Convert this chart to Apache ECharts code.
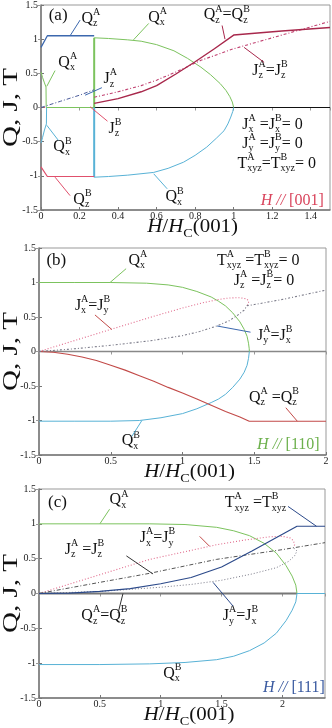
<!DOCTYPE html>
<html>
<head>
<meta charset="utf-8">
<script src="https://cdn.jsdelivr.net/npm/echarts@6.0.0/dist/echarts.min.js"></script>
<style>
html, body { margin: 0; padding: 0; background: #fff; }
#main { width: 332px; height: 728px; }
</style>
</head>
<body>
<div id="main"></div>
<script>
// ---------- panel (a)  H // [001] ----------
var aQxA = [[0, 0.52], [0.008, 0.44], [0.018, 0.36], [0.026, 0.3], [0.027, 0], [0.276, 0]];
var aQxAJump = [[0.276, 0], [0.276, 1.02]];
var aQxAHigh = [[0.276, 1.02], [0.35, 1.01], [0.45, 0.99], [0.52, 0.97], [0.6, 0.92], [0.69, 0.83], [0.76, 0.72],
  [0.83, 0.59], [0.88, 0.48], [0.93, 0.35], [0.96, 0.25], [0.98, 0.16], [0.993, 0.08], [1.0, 0]];
var aQxB = [[0, -0.52], [0.008, -0.44], [0.018, -0.33], [0.028, -0.24], [0.029, 0]];
var aQxBJump = [[0.276, 0], [0.276, -1.02]];
var aQxBHigh = [[0.276, -1.02], [0.35, -1.01], [0.45, -0.99], [0.585, -0.95], [0.66, -0.89], [0.74, -0.8], [0.8, -0.7],
  [0.86, -0.58], [0.91, -0.45], [0.95, -0.34], [0.97, -0.24], [0.985, -0.14], [0.995, -0.06], [1.0, 0]];
var aQzA = [[0, 0.88], [0.033, 1.05], [0.276, 1.05]];
var aQzB = [[0, -0.87], [0.033, -1.01], [0.276, -1.01]];
var aQz = [[0.276, 0.06], [0.4, 0.13], [0.52, 0.23], [0.6, 0.32], [0.7, 0.49], [0.8, 0.67], [0.9, 0.86], [1.0, 1.06],
  [1.25, 1.12], [1.5, 1.17]];
var aJzA = [[0, 0], [0.1, 0.09], [0.2, 0.18], [0.276, 0.26]];
var aJzB = [[0, 0], [0.276, 0]];
var aJz = [[0.276, 0.15], [0.4, 0.23], [0.52, 0.32], [0.6, 0.4], [0.7, 0.52], [0.83, 0.69], [1.0, 0.86], [1.25, 1.06],
  [1.5, 1.26]];
var aZero = [[0.276, 0], [1.5, 0]];

// ---------- panel (b)  H // [110] ----------
var bQxA = [[0, 1.0], [0.25, 1.0], [0.5, 1.0], [0.75, 0.99], [0.9, 0.965], [1.0, 0.93], [1.1, 0.87], [1.2, 0.79],
  [1.25, 0.73], [1.3, 0.66], [1.35, 0.56], [1.4, 0.43], [1.43, 0.32], [1.45, 0.22], [1.46, 0.12], [1.465, 0.04], [1.466, 0]];
var bQxB = [[0, -1.01], [0.25, -1.01], [0.5, -1.01], [0.7, -1.0], [0.85, -0.96], [1.0, -0.9], [1.1, -0.83], [1.2, -0.74],
  [1.25, -0.69], [1.3, -0.62], [1.35, -0.52], [1.4, -0.4], [1.43, -0.3], [1.45, -0.2], [1.46, -0.1], [1.466, 0]];
var bQz = [[0, 0], [0.1, -0.01], [0.2, -0.04], [0.3, -0.08], [0.4, -0.13], [0.5, -0.2], [0.6, -0.27], [0.7, -0.35],
  [0.8, -0.43], [0.9, -0.52], [1.0, -0.6], [1.1, -0.69], [1.2, -0.78], [1.3, -0.87], [1.4, -0.95], [1.465, -1.01], [2.0, -1.01]];
var bJxA = [[0, 0], [0.25, 0.16], [0.5, 0.32], [0.775, 0.495], [1.0, 0.63], [1.15, 0.71], [1.24, 0.75], [1.32, 0.775],
  [1.4, 0.78], [1.44, 0.765], [1.46, 0.74], [1.46, 0.7], [1.45, 0.665]];
var bJyA = [[0, 0], [0.25, 0.04], [0.5, 0.09], [0.775, 0.155], [1.0, 0.23], [1.12, 0.29], [1.24, 0.37], [1.32, 0.44],
  [1.38, 0.52], [1.43, 0.6], [1.45, 0.665], [1.5, 0.68], [1.71, 0.76], [2.0, 0.89]];
var bZero = [[0, 0], [2.0, 0]];

// ---------- panel (c)  H // [111] ----------
var cQxA = [[0, 1.0], [0.5, 1.0], [0.91, 1.0], [1.2, 0.99], [1.46, 0.95], [1.6, 0.9], [1.73, 0.83], [1.85, 0.72],
  [1.95, 0.58], [2.03, 0.4], [2.08, 0.25], [2.11, 0.12], [2.12, 0]];
var cQxB = [[0, -1.02], [0.5, -1.02], [0.91, -1.01], [1.2, -0.99], [1.46, -0.95], [1.6, -0.9], [1.73, -0.82], [1.85, -0.71],
  [1.95, -0.57], [2.03, -0.39], [2.08, -0.24], [2.11, -0.12], [2.12, 0], [2.35, 0]];
var cT = [[0, 0], [0.25, 0.005], [0.5, 0.03], [0.75, 0.07], [1.0, 0.14], [1.25, 0.23], [1.5, 0.38], [1.75, 0.61],
  [2.0, 0.85], [2.12, 0.965], [2.35, 0.965]];
var cJxA = [[0, 0], [0.5, 0.27], [0.91, 0.49], [1.2, 0.6], [1.46, 0.7], [1.7, 0.77], [1.9, 0.815], [2.0, 0.82],
  [2.06, 0.8], [2.09, 0.76], [2.1, 0.7], [2.09, 0.66]];
var cJz = [[0, 0], [0.5, 0.16], [0.91, 0.29], [1.46, 0.49], [2.0, 0.63], [2.35, 0.73]];
var cJyA = [[0, 0], [0.5, 0.03], [0.75, 0.06], [1.0, 0.09], [1.25, 0.13], [1.5, 0.19], [1.75, 0.28], [1.95, 0.37],
  [2.05, 0.46], [2.1, 0.54], [2.12, 0.61], [2.09, 0.66]];
var cZero = [[0, 0], [2.12, 0]];

var xMax = [1.5, 2.0, 2.35];
var xStep = [0.2, 0.5, 0.5];

var FONT = '"Liberation Serif", "Times New Roman", serif';
var GREEN = '#7cc35e', CYAN = '#58b2d6', DRED = '#a8284c', RED = '#e0506c', BLUE = '#3c68ae',
  PINK = '#e0688a', BRICK = '#c24a48', GRAY = '#7a7a88', NAVY = '#2c4a8a';

var chart = echarts.init(document.getElementById('main'), null, { renderer: 'canvas' });

var grids = [
  { left: 41, top: 5, width: 289, height: 205 },
  { left: 39, top: 248, width: 287, height: 207 },
  { left: 39, top: 489, width: 286, height: 209 }
];
var xAxes = [], yAxes = [];
grids.forEach(function (gr, g) {
  gr.show = true; gr.borderColor = '#999'; gr.borderWidth = 1; gr.containLabel = false;
  xAxes.push({
    gridIndex: g, type: 'value', min: 0, max: xMax[g], interval: xStep[g], position: 'bottom',
    axisLine: { show: true, onZero: false, lineStyle: { color: '#777', width: 1.5 } },
    axisTick: { inside: true, length: 3, lineStyle: { color: '#777' } },
    axisLabel: { fontFamily: FONT, fontSize: 10, color: '#222', margin: 1, showMaxLabel: g === 1 },
    splitLine: { show: false }
  });
  xAxes.push({
    gridIndex: g, type: 'value', min: 0, max: xMax[g], interval: xStep[g], position: 'top',
    axisLine: { show: false }, axisTick: { inside: true, length: 3, lineStyle: { color: '#999' } },
    axisLabel: { show: false }, splitLine: { show: false }
  });
  yAxes.push({
    gridIndex: g, type: 'value', min: -1.5, max: 1.5, interval: 0.5, position: 'left',
    axisLine: { show: true, onZero: false, lineStyle: { color: '#777', width: 1.5 } },
    axisTick: { inside: true, length: 3, lineStyle: { color: '#777' } },
    axisLabel: { fontFamily: FONT, fontSize: 10, color: '#222', margin: 3 },
    splitLine: { show: false }
  });
  yAxes.push({
    gridIndex: g, type: 'value', min: -1.5, max: 1.5, interval: 0.5, position: 'right',
    axisLine: { show: false }, axisTick: { inside: true, length: 3, lineStyle: { color: '#999' } },
    axisLabel: { show: false }, splitLine: { show: false }
  });
});

function line(g, data, color, width, type, z) {
  return {
    type: 'line', xAxisIndex: 2 * g, yAxisIndex: 2 * g, data: data, symbol: 'none', showSymbol: false,
    silent: true, animation: false, z: z || 2,
    lineStyle: { color: color, width: width || 1, type: type || 'solid' }
  };
}

var series = [
  // (a)
  line(0, aZero, '#111', 1),
  line(0, aJzB, RED, 1.2, [1, 2]),
  line(0, aQxA, GREEN, 1),
  line(0, aQxB, CYAN, 1),
  line(0, aQxAJump, GREEN, 2),
  line(0, aQxBJump, CYAN, 2),
  line(0, aQxAHigh, GREEN, 1),
  line(0, aQxBHigh, CYAN, 1),
  line(0, aQzA, BLUE, 1.3),
  line(0, aQzB, RED, 1.2),
  line(0, aJzA, '#4a5a9a', 1, [4, 2, 1, 2]),
  line(0, aJz, '#c04070', 1.1, [3, 2, 1, 2]),
  line(0, aQz, DRED, 1.4),
  // (b)
  line(1, bZero, '#888', 1.5),
  line(1, bQxA, GREEN, 1),
  line(1, bQxB, CYAN, 1),
  line(1, bQz, BRICK, 1.1),
  line(1, bJxA, PINK, 1.1, [1, 2]),
  line(1, bJyA, GRAY, 1.1, [2, 2, 1, 2]),
  // (c)
  line(2, cZero, '#777', 2),
  line(2, cQxA, GREEN, 1),
  line(2, cQxB, CYAN, 1),
  line(2, cJxA, PINK, 1.1, [1, 2]),
  line(2, cJz, '#555', 1, [4, 2, 1, 2]),
  line(2, cJyA, GRAY, 1, [1, 2]),
  line(2, cT, NAVY, 1.2)
];

// leader lines from labels to curves (data coordinates)
var pointers = [
  [0, [0.203, 1.28], [0.151, 1.05], BLUE], [0, [0.559, 1.23], [0.48, 0.99], GREEN],
  [0, [0.94, 1.2], [0.955, 1.0], DRED], [0, [1.158, 0.66], [1.054, 0.88], DRED],
  [0, [0.073, 0.54], [0.03, 0.31], GREEN], [0, [0.316, 0.29], [0.229, 0.18], BLUE],
  [0, [0.345, -0.2], [0.255, 0.01], RED], [0, [0.09, -0.48], [0.03, -0.26], CYAN],
  [0, [0.151, -1.29], [0.073, -1.02], RED], [0, [0.655, -1.19], [0.585, -0.97], CYAN],
  [1, [0.607, 1.2], [0.495, 1.0], GREEN], [1, [0.39, 0.53], [0.507, 0.32], BRICK],
  [1, [1.474, 0.28], [1.241, 0.37], BLUE], [1, [1.72, -0.815], [1.8, -1.01], BRICK],
  [1, [0.647, -1.23], [0.717, -1.0], CYAN],
  [2, [0.58, 1.21], [0.5, 1.0], GREEN], [2, [2.046, 1.25], [2.28, 0.965], NAVY],
  [2, [1.32, 0.82], [1.4, 0.68], BRICK], [2, [0.718, 0.54], [0.937, 0.28], '#333'],
  [2, [0.65, -0.28], [0.69, 0.0], '#333'], [2, [1.594, -0.18], [1.43, 0.16], NAVY]
];
pointers.forEach(function (p) { series.push(line(p[0], [p[1], p[2]], p[3], 1, 'solid', 5)); });

chart.setOption({
  animation: false,
  backgroundColor: '#fff',
  grid: grids,
  xAxis: xAxes,
  yAxis: yAxes,
  series: series
});

// ---------- text with sub/superscripts ----------
var ctx = document.createElement('canvas').getContext('2d');
function fontStr(size, it) { return (it ? 'italic ' : '') + size + 'px ' + FONT; }
function tw(s, size, it) { ctx.font = fontStr(size, it); return ctx.measureText(s).width; }
function tx(s, x, y, size, it, color) {
  return {
    type: 'text', x: x, y: y, silent: true,
    style: { text: s, font: fontStr(size, it), fill: color, textAlign: 'left', textVerticalAlign: 'middle' }
  };
}
function q(b, sup, sub) { return { b: b, sup: sup, sub: sub }; }
function mtext(tokens, x, y, opt) {
  opt = opt || {};
  var size = opt.size || 16, small = opt.small || 10, color = opt.color || '#111';
  var els = [], cx = 0;
  tokens.forEach(function (t) {
    if (typeof t === 'string') t = { b: t };
    els.push(tx(t.b, cx, 0, size, t.it, color));
    cx += tw(t.b, size, t.it);
    var w = 0;
    if (t.sup) { els.push(tx(t.sup, cx, -size * 0.38, small, false, color)); w = tw(t.sup, small); }
    if (t.sub) { els.push(tx(t.sub, cx, size * 0.32, small, false, color)); w = Math.max(w, tw(t.sub, small)); }
    cx += w;
  });
  return { type: 'group', x: opt.center ? x - cx / 2 : x, y: y, z: 100, scaleX: opt.sx || 1, children: els };
}
function px(g, v) { return chart.convertToPixel({ xAxisIndex: 2 * g, yAxisIndex: 2 * g }, v); }

var H = { b: 'H', it: true }, SL = { b: ' // ', it: true };
var labels = [
  [0, [0.04, 1.35], ['(a)'], { size: 17 }],
  [0, [0.21, 1.3], [q('Q', 'A', 'z')]],
  [0, [0.557, 1.32], [q('Q', 'A', 'x')]],
  [0, [0.845, 1.35], [q('Q', 'A', 'z'), '=', q('Q', 'B', 'z')]],
  [0, [1.097, 0.54], [q('J', 'A', 'z'), '=', q('J', 'B', 'z')]],
  [0, [0.09, 0.66], [q('Q', 'A', 'x')]],
  [0, [0.325, 0.42], [q('J', 'A', 'z')]],
  [0, [0.35, -0.31], [q('J', 'B', 'z')]],
  [0, [0.064, -0.58], [q('Q', 'B', 'x')]],
  [0, [0.168, -1.35], [q('Q', 'B', 'z')]],
  [0, [0.646, -1.31], [q('Q', 'B', 'x')]],
  [0, [1.045, -0.25], [q('J', 'A', 'x'), ' =', q('J', 'B', 'x'), '= 0']],
  [0, [1.045, -0.53], [q('J', 'A', 'y'), ' =', q('J', 'B', 'y'), '= 0']],
  [0, [1.02, -0.82], [q('T', 'A', 'xyz'), '=', q('T', 'B', 'xyz'), '= 0']],
  [0, [1.14, -1.36], [H, SL, '[001]'], { color: '#d9445c' }],

  [1, [0.052, 1.32], ['(b)'], { size: 17 }],
  [1, [0.623, 1.32], [q('Q', 'A', 'x')]],
  [1, [1.24, 1.32], [q('T', 'A', 'xyz'), ' =', q('T', 'B', 'xyz'), '= 0']],
  [1, [1.358, 1.03], [q('J', 'A', 'z'), ' =', q('J', 'B', 'z'), '= 0']],
  [1, [0.25, 0.665], [q('J', 'A', 'x'), '=', q('J', 'B', 'y')]],
  [1, [1.52, 0.23], [q('J', 'A', 'y'), '=', q('J', 'B', 'x')]],
  [1, [1.463, -0.67], [q('Q', 'A', 'z'), ' =', q('Q', 'B', 'z')]],
  [1, [0.577, -1.3], [q('Q', 'B', 'x')]],
  [1, [1.52, -1.35], [H, SL, '[110]'], { color: '#6cb04c' }],

  [2, [0.074, 1.3], ['(c)'], { size: 17 }],
  [2, [0.58, 1.34], [q('Q', 'A', 'x')]],
  [2, [1.526, 1.3], [q('T', 'A', 'xyz'), ' =', q('T', 'B', 'xyz')]],
  [2, [0.828, 0.8], [q('J', 'A', 'x'), '=', q('J', 'B', 'y')]],
  [2, [0.211, 0.63], [q('J', 'A', 'z'), ' =', q('J', 'B', 'z')]],
  [2, [0.348, -0.32], [q('Q', 'A', 'z'), '=', q('Q', 'B', 'z')]],
  [2, [1.51, -0.32], [q('J', 'A', 'y'), '=', q('J', 'B', 'x')]],
  [2, [1.02, -1.15], [q('Q', 'B', 'x')]],
  [2, [1.84, -1.35], [H, SL, '[111]'], { color: '#3a5aa0' }]
];

var graphic = [];
labels.forEach(function (l) {
  var p = px(l[0], l[1]);
  graphic.push(mtext(l[2], p[0], p[1], l[3]));
});
grids.forEach(function (gr, g) {
  var mid = px(g, [xMax[g] / 2, 0]);
  // y axis title
  graphic.push({
    type: 'text', x: 12, y: mid[1], rotation: Math.PI / 2, scaleX: 1.45, silent: true, z: 100,
    style: { text: 'Q, J, T', font: '20px ' + FONT, fill: '#111', textAlign: 'center', textVerticalAlign: 'middle' }
  });
  // x axis title
  graphic.push(mtext([H, '/', { b: 'H', it: true, sub: 'C' }, '(001)'],
    mid[0] + 3, gr.top + gr.height + 17, { size: 19, small: 13, center: true, sx: 1.1 }));
});
chart.setOption({ graphic: graphic });
</script>
</body>
</html>
